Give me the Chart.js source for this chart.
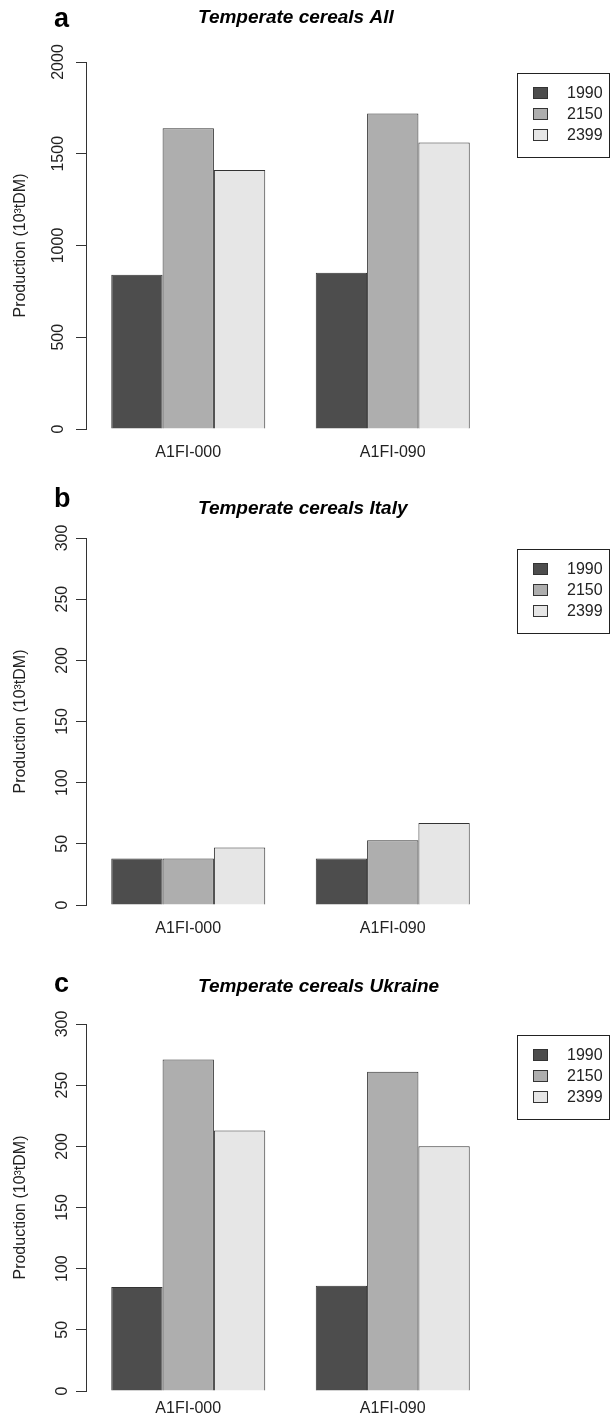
<!DOCTYPE html>
<html>
<head>
<meta charset="utf-8">
<script src="https://cdn.jsdelivr.net/npm/chart.js@4.4.0/dist/chart.umd.min.js"></script>
<style>
  html, body { margin: 0; padding: 0; background: #fff; }
  #wrap { position: relative; width: 614px; height: 1418px; overflow: hidden; }
  #wrap canvas { position: absolute; left: 0; }
</style>
</head>
<body>
<div id="wrap">
  <canvas id="panelA" width="614" height="476" style="top:0px"></canvas>
  <canvas id="panelB" width="614" height="486" style="top:476px"></canvas>
  <canvas id="panelC" width="614" height="456" style="top:962px"></canvas>
</div>
<script>
// Data (10^3 tDM)
const scenarios = ['A1FI-000', 'A1FI-090'];
const years = ['1990', '2150', '2399'];
const yearColors = ['#4d4d4d', '#aeaeae', '#e6e6e6'];

const allProd1990 = [840, 852];
const allProd2150 = [1639, 1719];
const allProd2399 = [1411, 1561];

const italyProd1990 = [38, 38];
const italyProd2150 = [38, 53];
const italyProd2399 = [47, 67];

const ukraineProd1990 = [85, 86];
const ukraineProd2150 = [271, 261];
const ukraineProd2399 = [213, 200];

const allTicks = [0, 500, 1000, 1500, 2000];
const countryTicks = [0, 50, 100, 150, 200, 250, 300];

const FONT = '"Liberation Sans", Arial, sans-serif';
const INK = '#222';

// letter, title and the boxed R-style legend
const panelDecor = {
  id: 'panelDecor',
  afterDraw(chart, args, opts) {
    const ctx = chart.ctx;
    const area = chart.chartArea;
    ctx.save();
    ctx.fillStyle = '#000';
    ctx.textAlign = 'left';
    ctx.textBaseline = 'alphabetic';
    ctx.font = 'bold 27px ' + FONT;
    ctx.fillText(opts.letter, 54, opts.letterY);

    ctx.textBaseline = 'middle';
    ctx.font = 'italic bold 19px ' + FONT;
    ctx.fillText(opts.title, 198, opts.titleY);

    // legend box
    const bx = 517, by = area.top + 11, bw = 92, bh = 84;
    ctx.strokeStyle = INK;
    ctx.lineWidth = 1;
    ctx.strokeRect(bx + 0.5, by + 0.5, bw, bh);
    ctx.font = '16px ' + FONT;
    chart.data.datasets.forEach((ds, i) => {
      const ry = Math.round(by + 20 + i * 21);
      ctx.fillStyle = ds.backgroundColor;
      ctx.fillRect(533, ry - 6, 15, 12);
      ctx.strokeStyle = '#333';
      ctx.strokeRect(533.5, ry - 5.5, 14, 11);
      ctx.fillStyle = INK;
      ctx.fillText(ds.label, 567, ry + 1);
    });
    ctx.restore();
  }
};

function makePanel(canvasId, series, tickValues, decor, xPad, xHeight, bottomPad) {
  const ctx = document.getElementById(canvasId).getContext('2d');
  const datasets = series.map((vals, i) => ({
    label: years[i],
    data: vals,
    backgroundColor: yearColors[i],
    borderColor: '#333',
    borderWidth: 1,
    categoryPercentage: 0.753,
    barPercentage: 1.0
  }));

  return new Chart(ctx, {
    type: 'bar',
    data: { labels: scenarios, datasets: datasets },
    options: {
      responsive: false,
      animation: false,
      events: [],
      layout: { padding: { top: 62, left: 0, right: 119, bottom: bottomPad } },
      plugins: {
        legend: { display: false },
        tooltip: { enabled: false },
        title: { display: false },
        panelDecor: decor
      },
      scales: {
        x: {
          offset: true,
          afterFit: s => { s.height = xHeight; },
          border: { display: false },
          grid: { display: false, drawTicks: false },
          ticks: {
            padding: xPad,
            maxRotation: 0,
            color: INK,
            font: { family: FONT, size: 16 }
          }
        },
        y: {
          min: 0,
          max: tickValues[tickValues.length - 1],
          afterBuildTicks: s => { s.ticks = tickValues.map(v => ({ value: v })); },
          afterFit: s => { s.width = 86; },
          border: { display: true, color: '#333', width: 1 },
          grid: { drawOnChartArea: false, drawTicks: true, tickLength: 10, color: '#333' },
          ticks: {
            minRotation: 90,
            maxRotation: 90,
            crossAlign: 'center',
            padding: 0,
            color: INK,
            font: { family: FONT, size: 16 },
            callback: v => String(v)
          },
          title: {
            display: true,
            text: 'Production (10³tDM)',
            color: INK,
            font: { family: FONT, size: 16 },
            padding: { top: 11, bottom: 0 }
          }
        }
      }
    },
    plugins: [panelDecor]
  });
}

makePanel('panelA', [allProd1990, allProd2150, allProd2399], allTicks,
  { letter: 'a', letterY: 27, title: 'Temperate cereals All', titleY: 18 }, 14, 40, 7);
makePanel('panelB', [italyProd1990, italyProd2150, italyProd2399], countryTicks,
  { letter: 'b', letterY: 31, title: 'Temperate cereals Italy', titleY: 33 }, 14, 40, 17);
makePanel('panelC', [ukraineProd1990, ukraineProd2150, ukraineProd2399], countryTicks,
  { letter: 'c', letterY: 30, title: 'Temperate cereals Ukraine', titleY: 25 }, 8, 27, 0);
</script>
</body>
</html>
